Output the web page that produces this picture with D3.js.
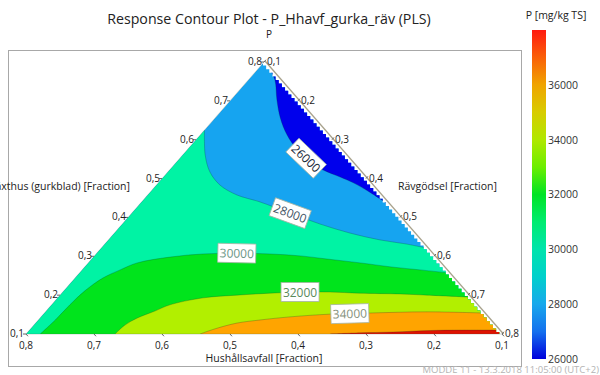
<!DOCTYPE html>
<html lang="sv">
<head>
<meta charset="UTF-8">
<title>Response Contour Plot - P_Hhavf_gurka_räv (PLS)</title>
<script src="https://d3js.org/d3.v7.min.js"></script>
<style>
  body { margin: 0; background: #fff; }
  svg { display: block; font-family: "Open Sans", "Noto Sans", sans-serif; }
</style>
</head>
<body>
<svg width="600" height="375"></svg>
<script>
// contour levels; band i is the region between levels[i-1] and levels[i]
const levels = [26000, 28000, 30000, 32000, 34000, 36000];
const bandColors = ["#0000ec", "#16a4f0", "#00f3a4", "#00e41c", "#b2ef00", "#ffa400", "#de1200"];

// contour lines, points as [Växthus, Rävgödsel] fractions
const c26000 = [[0.785,0.115],[0.754,0.139],[0.702,0.168],[0.656,0.196],[0.612,0.228],[0.574,0.262],
                [0.543,0.296],[0.522,0.326],[0.504,0.360],[0.489,0.387],[0.465,0.423],[0.432,0.468]];
const c28000 = [[0.625,0.100],[0.561,0.133],[0.517,0.162],[0.483,0.194],[0.458,0.231],[0.440,0.274],
                [0.411,0.333],[0.383,0.391],[0.360,0.446],[0.342,0.500],[0.332,0.542],[0.321,0.579]];
const c30000 = [[0.100,0.121],[0.136,0.125],[0.175,0.127],[0.211,0.131],[0.244,0.141],[0.265,0.156],
                [0.283,0.172],[0.298,0.213],[0.306,0.257],[0.308,0.306],[0.306,0.356],[0.301,0.403],
                [0.293,0.446],[0.283,0.500],[0.272,0.554],[0.265,0.597],[0.257,0.644]];
const c32000 = [[0.100,0.231],[0.123,0.234],[0.141,0.243],[0.159,0.260],[0.175,0.274],[0.193,0.314],
                [0.200,0.360],[0.205,0.406],[0.208,0.449],[0.208,0.493],[0.205,0.538],[0.203,0.599],
                [0.200,0.640],[0.195,0.704]];
const c34000 = [[0.100,0.356],[0.113,0.371],[0.128,0.396],[0.136,0.426],[0.144,0.466],[0.151,0.521],
                [0.154,0.579],[0.157,0.661],[0.154,0.746]];
const c36000 = [[0.100,0.547],[0.103,0.590],[0.105,0.637],[0.109,0.690],[0.110,0.733],[0.110,0.790]];
const contours = [c26000, c28000, c30000, c32000, c34000, c36000];

// axis ticks (all three components run 0.1 .. 0.8)
const fracTicks = [0.1, 0.2, 0.3, 0.4, 0.5, 0.6, 0.7, 0.8];
// colour bar
const barTicks = [26000, 28000, 30000, 32000, 34000, 36000];
const barValues = [26000, 27000, 28000, 29000, 30000, 31000, 32000, 33000, 34000, 35000, 36000, 37000, 38000];
const barColors = ["#0000dc", "#1470ee", "#18a8ec", "#00d0cc", "#00e4ac", "#00ec70", "#00e424",
                   "#6cee00", "#b0e800", "#d8cc00", "#f0a400", "#fa6008", "#ff1a10"];

const svg = d3.select("svg");
const fmt = d => String(d).replace(".", ",");

// scales: Hushållsavfall along the base, Växthus for height
const hScale = d3.scaleLinear().domain([0.8, 0.1]).range([26, 502]);
const vScale = d3.scaleLinear().domain([0.1, 0.8]).range([334, 62]);
function pos(v, r) {
  const h = 1 - v - r;
  return [hScale(h + (v - 0.1) / 2), vScale(v)];
}
const T = pos(0.8, 0.1), BL = pos(0.1, 0.1), BR = pos(0.1, 0.8);

// frame
svg.append("rect")
  .attr("x", 8.5).attr("y", 50.5).attr("width", 513).attr("height", 316)
  .attr("fill", "none").attr("stroke", "#a8a8a8");

// clip: triangle with the stepped right edge MODDE draws
const step = 3.6, edgeX = y => T[0] + (y - T[1]) * (BR[0] - T[0]) / (BR[1] - T[1]) - 1;
const clipPts = [BL, T];
for (let y = T[1]; y < BR[1]; y += step) {
  const y1 = Math.min(y + step, BR[1]);
  clipPts.push([edgeX(y), y], [edgeX(y), y1]);
}
clipPts.push([BR[0] - 2, BR[1]]);
svg.append("defs").append("clipPath").attr("id", "tri")
  .append("path").attr("d", "M" + clipPts.join("L") + "Z");

const plot = svg.append("g").attr("clip-path", "url(#tri)");
const curve = d3.line().curve(d3.curveCatmullRom.alpha(0.5));
const px = contours.map(c => c.map(p => pos(p[0], p[1])));

// base band (26000-28000)
plot.append("path").attr("d", "M" + [BL, T, BR].join("L") + "Z").attr("fill", bandColors[1]);
// below 26000
plot.append("path").attr("d", curve(px[0]) + "Z").attr("fill", bandColors[0]);
// bands above 28000 ... 36000
for (let i = 1; i < px.length; i++) {
  plot.append("path")
    .attr("d", curve(px[i]) + "L" + BR + "L" + [BR[0], BR[1] + 5] + "L" + [BL[0] - 5, BL[1] + 5] + "L" + BL + "Z")
    .attr("fill", bandColors[i + 1]);
}
// contour lines
px.forEach(p => plot.append("path").attr("d", curve(p))
  .attr("fill", "none").attr("stroke", "rgba(0,40,40,0.3)").attr("stroke-width", 0.8));

// triangle edges
svg.append("path").attr("d", "M" + [BL, T].join("L") + "M" + [BL, BR].join("L"))
  .attr("fill", "none").attr("stroke", "rgba(60,90,80,0.35)").attr("stroke-width", 0.7);
svg.append("path").attr("d", "M" + [[T[0] + 1, T[1] - 1], [BR[0] + 1.5, BR[1]]].join("L"))
  .attr("fill", "none").attr("stroke", "#a8a28c").attr("stroke-width", 1.3);

// contour labels
const labelAt = [5.7, 6, 9, 8, 5.5];
const labelText = ["#1a2838", "#3e5262", "#6a9686", "#5a8a5c", "#84907a"];
labelAt.forEach((t, i) => {
  const p = px[i], k = Math.floor(t), f = t - k;
  const a = p[k], b = p[k + 1];
  const x = a[0] + (b[0] - a[0]) * f, y = a[1] + (b[1] - a[1]) * f;
  const ang = Math.atan2(b[1] - a[1], b[0] - a[0]) * 180 / Math.PI;
  const g = svg.append("g").attr("transform", `translate(${x},${y}) rotate(${ang})`);
  g.append("rect").attr("x", -19).attr("y", -9.5).attr("width", 38).attr("height", 19)
    .attr("fill", "#fff").attr("stroke", "#a4b4a4").attr("stroke-width", 0.8);
  g.append("text").attr("text-anchor", "middle").attr("dy", 4.5)
    .attr("font-size", 12).attr("fill", labelText[i]).text(levels[i]);
});

// ternary edge ticks and labels
const axisG = svg.append("g").attr("font-size", 10).attr("fill", "#222");
const len = Math.hypot(BR[0] - T[0], BR[1] - T[1]);
const dR = [(BR[0] - T[0]) / len, (BR[1] - T[1]) / len];   // direction parallel to right edge
const dL = [(T[0] - BL[0]) / len, (T[1] - BL[1]) / len];   // parallel to left edge
fracTicks.forEach(t => {
  // Växthus on the left edge
  let p = pos(t, 0.1);
  axisG.append("line").attr("x1", p[0]).attr("y1", p[1]).attr("x2", p[0] - 3).attr("y2", p[1]).attr("stroke", "#666");
  axisG.append("text").attr("x", p[0] - 2).attr("y", p[1] + 3).attr("text-anchor", "end").text(fmt(t));
  // Rävgödsel on the right edge
  p = pos(0.9 - t, t);
  axisG.append("line").attr("x1", p[0]).attr("y1", p[1]).attr("x2", p[0] + dL[0] * 3).attr("y2", p[1] + dL[1] * 3).attr("stroke", "#666");
  axisG.append("text").attr("x", p[0] + 3).attr("y", p[1] + 3).text(fmt(t));
  // Hushållsavfall on the base
  p = pos(0.1, 0.9 - t);
  axisG.append("line").attr("x1", p[0]).attr("y1", p[1]).attr("x2", p[0] + dR[0] * 3).attr("y2", p[1] + dR[1] * 3).attr("stroke", "#666");
  axisG.append("text").attr("x", p[0]).attr("y", p[1] + 15).attr("text-anchor", "middle").text(fmt(t));
});

// titles
svg.append("text").attr("x", 269).attr("y", 24).attr("text-anchor", "middle")
  .attr("font-size", 14.2).attr("fill", "#222").text("Response Contour Plot - P_Hhavf_gurka_räv (PLS)");
svg.append("text").attr("x", 269).attr("y", 38).attr("text-anchor", "middle")
  .attr("font-size", 10).attr("fill", "#222").text("P");
svg.append("text").attr("x", 130).attr("y", 190).attr("text-anchor", "end")
  .attr("font-size", 10.5).attr("fill", "#222").text("Växthus (gurkblad) [Fraction]");
svg.append("text").attr("x", 398).attr("y", 190)
  .attr("font-size", 10.5).attr("fill", "#222").text("Rävgödsel [Fraction]");
svg.append("text").attr("x", 264).attr("y", 362).attr("text-anchor", "middle")
  .attr("font-size", 10.5).attr("fill", "#222").text("Hushållsavfall [Fraction]");
svg.append("text").attr("x", 599).attr("y", 373).attr("text-anchor", "end")
  .attr("font-size", 9.5).attr("fill", "#b4b4b4").text("MODDE 11 - 13.3.2018 11:05:00 (UTC+2)");

// colour bar
const barScale = d3.scaleLinear().domain([26000, 38000]).range([359, 30]);
const grad = svg.select("defs").append("linearGradient").attr("id", "bar")
  .attr("x1", 0).attr("y1", 1).attr("x2", 0).attr("y2", 0);
barValues.forEach((v, i) => grad.append("stop")
  .attr("offset", (v - 26000) / 12000).attr("stop-color", barColors[i]));
svg.append("rect").attr("x", 532).attr("y", barScale(38000)).attr("width", 14)
  .attr("height", barScale(26000) - barScale(38000)).attr("fill", "url(#bar)");
svg.append("g").attr("transform", "translate(546,0)")
  .call(d3.axisRight(barScale).tickValues(barTicks).tickSize(0).tickPadding(2).tickFormat(d3.format("d")))
  .call(g => g.select(".domain").remove())
  .selectAll("text").attr("font-size", 10.5).attr("fill", "#333")
  .style("font-family", "'Open Sans', sans-serif");
svg.append("text").attr("x", 556).attr("y", 19).attr("text-anchor", "middle")
  .attr("font-size", 10.5).attr("fill", "#222").text("P [mg/kg TS]");
</script>
</body>
</html>
